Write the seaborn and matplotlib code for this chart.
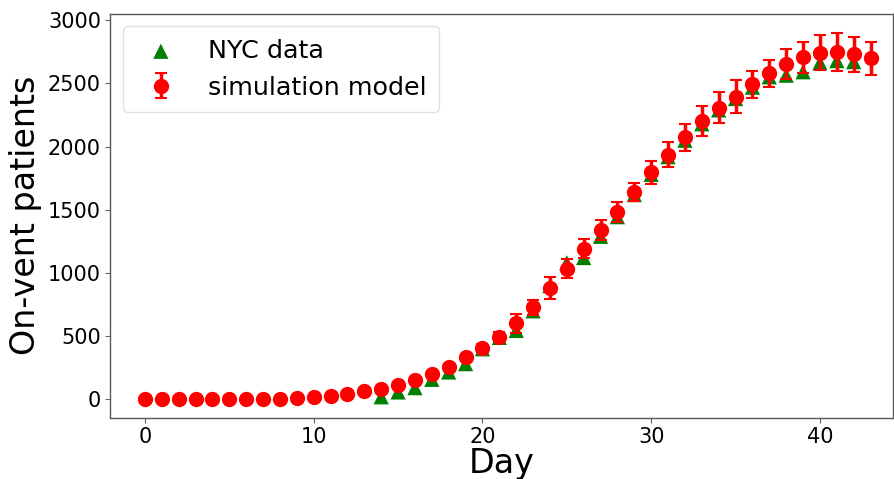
import numpy as np
import pandas as pd
import matplotlib
matplotlib.use("Agg")
import matplotlib.pyplot as plt
import seaborn as sns

# ---- data ----
sim_days = list(range(0, 44))
sim_values = [0, 0, 0, 1, 2, 3, 4, 5, 6, 8,
              18, 26, 40, 62, 78, 110, 150, 198, 258, 332,
              408, 495, 600, 728, 880, 1035, 1190, 1338, 1483, 1639,
              1797, 1937, 2072, 2201, 2309, 2395, 2492, 2580, 2655, 2706,
              2744, 2750, 2730, 2700]
sim_err = [1, 1, 1, 2, 2, 2, 3, 3, 3, 4,
           5, 6, 8, 10, 12, 15, 18, 20, 22, 25,
           28, 35, 75, 60, 88, 75, 75, 80, 77, 70,
           90, 100, 107, 118, 125, 130, 105, 107, 120, 120,
           138, 150, 140, 130]

nyc_days = list(range(14, 43))
nyc_values = [20, 58, 92, 158, 216, 282, 400, 490, 545, 700,
              900, 1080, 1122, 1290, 1445, 1620, 1780, 1920, 2050, 2180,
              2290, 2380, 2470, 2552, 2565, 2592, 2664, 2680, 2672]

nyc_df = pd.DataFrame({"Day": nyc_days, "On-vent patients": nyc_values})

sns.set_style("white")
plt.rcParams["font.family"] = ["DejaVu Sans"]
plt.rcParams["text.color"] = "black"
plt.rcParams["axes.labelcolor"] = "black"
plt.rcParams["xtick.labelcolor"] = "black"
plt.rcParams["ytick.labelcolor"] = "black"

fig = plt.figure(figsize=(8.94, 4.79), dpi=100)
ax = fig.add_axes([110 / 894, 1 - 418 / 479, (893 - 110) / 894, (418 - 13.5) / 479])

sns.scatterplot(data=nyc_df, x="Day", y="On-vent patients", marker="^",
                color="green", s=120, edgecolor="none", label="NYC data",
                ax=ax, zorder=2)
ax.errorbar(sim_days, sim_values, yerr=sim_err, fmt="o", color="red",
            markersize=10, elinewidth=2.5, capsize=4, capthick=1.5,
            label="simulation model", zorder=3)

ax.set_xlim(-2.07, 44.33)
ax.set_ylim(-148, 3053)
ax.set_xticks([0, 10, 20, 30, 40])
ax.set_yticks([0, 500, 1000, 1500, 2000, 2500, 3000])

ax.set_xlabel("Day", fontsize=24, labelpad=0)
ax.set_ylabel("On-vent patients", fontsize=24, labelpad=4)
ax.tick_params(axis="both", labelsize=15, length=3.5, width=0.8,
               color="0.4", labelcolor="black", direction="out",
               bottom=True, left=True, pad=3)
for sp in ax.spines.values():
    sp.set_color("0.35")
    sp.set_linewidth(1.0)

leg = ax.legend(loc="upper left", fontsize=18.3, frameon=True,
                borderpad=0.5, handletextpad=0.85, markerscale=1.0,
                labelcolor="black")
leg.get_frame().set_edgecolor("0.85")

fig.savefig("out.png", dpi=100)
